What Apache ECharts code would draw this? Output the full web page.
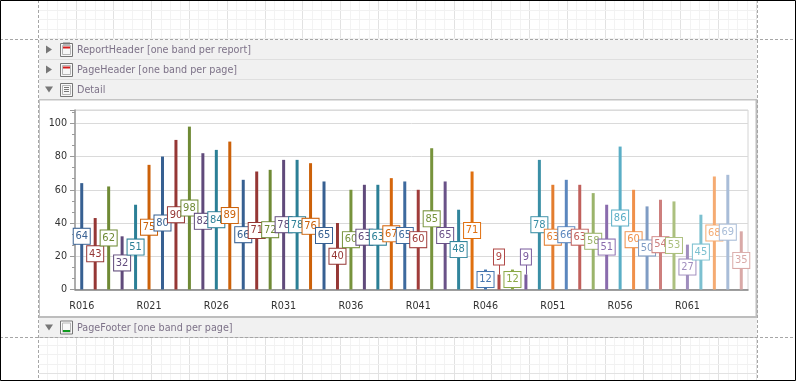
<!DOCTYPE html>
<html>
<head>
<meta charset="utf-8">
<style>
html, body { margin: 0; padding: 0; background: #fff; }
#chart { width: 796px; height: 381px; }
</style>
<script src="https://cdn.jsdelivr.net/npm/echarts@6/dist/echarts.min.js"></script>
</head>
<body>
<div id="chart"></div>
<script>
// chart data
var categories = ['R016','R017','R018','R019','R020','R021','R022','R023','R024','R025',
    'R026','R027','R028','R029','R030','R031','R032','R033','R034','R035',
    'R036','R037','R038','R039','R040','R041','R042','R043','R044','R045',
    'R046','R047','R048','R049','R050','R051','R052','R053','R054','R055',
    'R056','R057','R058','R059','R060','R061','R062','R063','R064','R065'];
var values = [64,43,62,32,51,75,80,90,98,82,
    84,89,66,71,72,78,78,76,65,40,
    60,63,63,67,65,60,85,65,48,71,
    12,9,12,9,78,63,66,63,58,51,
    86,60,50,54,53,27,45,68,69,35];
var yTicks = [0,20,40,60,80,100];
var bandTitles = ['ReportHeader [one band per report]','PageHeader [one band per page]','Detail'];
var footerTitle = 'PageFooter [one band per page]';

// bar colours, washes out towards the right like the report designer does
var barColors = ['#376092','#953735','#6F8A35','#604A7B','#2B7F96','#CC6109',
    '#376092','#953735','#6F8A35','#604A7B','#2B7F96','#CC6109',
    '#376092','#953735','#6F8A35','#604A7B','#2B7F96','#CC6109',
    '#376092','#953735','#77933C','#604A7B','#2B7F96','#D5660C',
    '#3D6A9E','#A03C3A','#77933C','#6A5288','#31859C','#E0700F',
    '#4575AE','#B04846','#8BA948','#7A5C9E','#3A8FA6','#E37D2F',
    '#5B87BE','#C0605C','#9BB46B','#8A6CAD','#5AAEC6','#F0904A',
    '#7F9CC4','#CD7F7D','#ACC07F','#A08EBE','#7CC0D0','#F5AB72',
    '#A9BDD8','#D9A9A7'];

var fontName = '"DejaVu Sans Condensed", "DejaVu Sans", sans-serif';
var titleColor = '#7d7288';

var chart = echarts.init(document.getElementById('chart'), null, { renderer: 'canvas' });

var graphics = [];

function addRect(x, y, w, h, fill, stroke, z) {
    graphics.push({ type: 'rect', silent: true, z: z || 0,
        shape: { x: x, y: y, width: w, height: h },
        style: { fill: fill || 'transparent', stroke: stroke || null, lineWidth: 1 } });
}
function addLine(x1, y1, x2, y2, color, dash, z, width) {
    graphics.push({ type: 'line', silent: true, z: z || 0,
        shape: { x1: x1, y1: y1, x2: x2, y2: y2 },
        style: { stroke: color, lineWidth: width || 1, lineDash: dash || null } });
}

// designer grid paper above and below the page
function paper(y0, y1, firstY, majorAt) {
    for (var x = 47.3, i = 0; x < 757; x += 9.45, i++) {
        addLine(Math.round(x) + 0.5, y0, Math.round(x) + 0.5, y1, (i % 4 == 3) ? '#e2e2e2' : '#f3f3f3');
    }
    for (var j = 0; j < 4; j++) {
        var y = Math.round(firstY + j * 9.45) + 0.5;
        addLine(39, y, 757, y, j == majorAt ? '#e2e2e2' : '#f1f1f1');
    }
}
paper(1, 39, 10, -1);
paper(338, 380, 344.6, 3);

// collapsed bands
function band(y, h, title, arrowDown) {
    addRect(39, y, 718, h, '#f1f1f1');
    addLine(39, y + h + 0.5, 757, y + h + 0.5, '#cccccc');
    var ax = 45, ay = y + 6;
    graphics.push({ type: 'polygon', silent: true,
        shape: { points: arrowDown ? [[ax, ay + 1], [ax + 8, ay + 1], [ax + 4, ay + 7]] : [[ax + 1, ay], [ax + 7, ay + 4], [ax + 1, ay + 8]] },
        style: { fill: '#777777' } });
    graphics.push({ type: 'text', silent: true, x: 77, y: y + 10.5,
        style: { text: title, fill: titleColor, font: '10.7px ' + fontName, textVerticalAlign: 'middle' } });
}
band(39.5, 19.5, bandTitles[0], false);
band(59.5, 19.5, bandTitles[1], false);
band(79.5, 19.5, bandTitles[2], true);
band(317.5, 19.5, footerTitle, true);

// band icons
function icon(y, accent, accentY) {
    addRect(60.5, y, 12, 13, '#f8f8f8', '#777777', 1);
    addRect(62.5, y + 2, 8, 9, null, '#b5b5b5', 1);
    if (accent) addRect(63, y + accentY, 7, 2, accent, null, 2);
}
icon(43.5, '#d42020', 3);
addRect(63, 42.5, 7, 2, '#777777', null, 2);
icon(63.5, '#d42020', 3);
icon(83.5, null, 0);
for (var k = 0; k < 3; k++) addLine(64, 87.5 + k * 2, 69, 87.5 + k * 2, '#777777', null, 2);
icon(321, '#0f9a1e', 9);

// detail band border
addRect(39.5, 99.5, 717, 217, '#ffffff', '#c4c4c4');
addLine(39, 100, 757, 100, '#c4c4c4');
addLine(39, 317, 757, 317, '#bdbdbd', null, 1, 2);
addLine(756.5, 99, 756.5, 318, '#bdbdbd', null, 1, 2);

// page margins
addLine(0, 39.5, 796, 39.5, '#a6a6a6', [3, 2], 5);
addLine(0, 337.5, 796, 337.5, '#a6a6a6', [3, 2], 5);
addLine(38.5, 0, 38.5, 381, '#a6a6a6', [3, 2], 5);
addLine(757.5, 0, 757.5, 381, '#a6a6a6', [3, 2], 5);
addRect(0.5, 0.5, 795, 380, null, '#000000', 6);

var seriesData = values.map(function (v, i) {
    return {
        value: v,
        itemStyle: { color: barColors[i] },
        label: { color: barColors[i], borderColor: barColors[i], width: v < 10 ? 10 : 16 }
    };
});

// thin leader from each lifted label down to its bar
var leaderTop = 15;
var leaders = [];
values.forEach(function (v, i) {
    if (v < 10) {
        leaders.push([
            { xAxis: categories[i], yAxis: v, lineStyle: { color: barColors[i], width: 1, type: 'solid' } },
            { xAxis: categories[i], yAxis: leaderTop }
        ]);
    }
});

var option = {
    animation: false,
    backgroundColor: '#ffffff',
    textStyle: { fontFamily: fontName },
    graphic: { elements: graphics },
    grid: { left: 75, right: 48, top: 110, bottom: 91.5, show: true, borderColor: '#d4d4d4', borderWidth: 1, backgroundColor: 'transparent', z: 3 },
    xAxis: [{
        type: 'category',
        data: categories,
        position: 'bottom',
        z: 4,
        axisLine: { lineStyle: { color: '#808080', width: 1.5 } },
        axisTick: { alignWithLabel: true, interval: 0, length: 3, lineStyle: { color: '#9a9a9a' } },
        axisLabel: { interval: 4, color: '#333333', fontSize: 10.7, fontFamily: fontName, margin: 11 },
        splitLine: { show: false }
    }, {
        // long ticks on every fifth report
        type: 'category',
        data: categories,
        position: 'bottom',
        z: 4,
        axisLine: { show: false },
        axisTick: { alignWithLabel: true, interval: 4, length: 6, lineStyle: { color: '#9a9a9a' } },
        axisLabel: { show: false },
        splitLine: { show: false }
    }],
    yAxis: {
        type: 'value',
        min: 0,
        max: 108,
        interval: 20,
        z: 4,
        axisLine: { show: true, lineStyle: { color: '#999999', width: 1.5 } },
        axisTick: { show: true, length: 5, lineStyle: { color: '#9a9a9a' } },
        minorTick: { show: true, splitNumber: 3, length: 3, lineStyle: { color: '#9a9a9a' } },
        axisLabel: {
            color: '#333333', fontSize: 10.7, fontFamily: fontName, margin: 8,
            customValues: yTicks
        },
        splitLine: { show: true, lineStyle: { color: '#dadada', width: 1 } }
    },
    series: [{
        type: 'bar',
        data: seriesData,
        barWidth: 3,
        z: 5,
        label: {
            show: true,
            position: 'inside',
            formatter: '{c}',
            fontSize: 11,
            fontFamily: fontName,
            backgroundColor: '#ffffff',
            borderWidth: 1,
            height: 15,
            lineHeight: 15,
            align: 'center',
            verticalAlign: 'middle'
        },
        // the two small bars have their label lifted above the neighbours
        labelLayout: function (params) {
            return values[params.dataIndex] < 10 ? { dy: -25 } : {};
        },
        markLine: {
            silent: true,
            symbol: 'none',
            label: { show: false },
            data: leaders
        }
    }]
};
chart.setOption(option);
</script>
</body>
</html>
